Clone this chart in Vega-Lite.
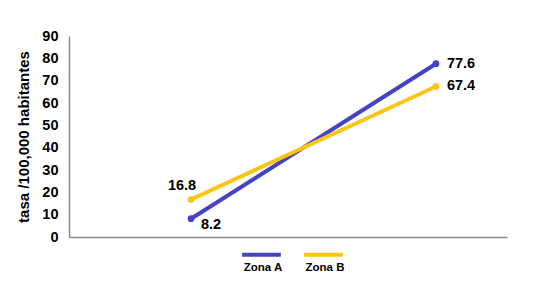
{
  "$schema": "https://vega.github.io/schema/vega-lite/v6.json",
  "width": 438,
  "height": 201,
  "autosize": {"type": "none"},
  "padding": {"left": 69, "top": 36, "right": 43, "bottom": 50},
  "background": "white",
  "config": {
    "view": {"stroke": null},
    "font": "Liberation Sans"
  },
  "data": {
    "values": [
      {"periodo": "Inicio", "zona": "Zona A", "tasa": 8.2},
      {"periodo": "Final", "zona": "Zona A", "tasa": 77.6},
      {"periodo": "Inicio", "zona": "Zona B", "tasa": 16.8},
      {"periodo": "Final", "zona": "Zona B", "tasa": 67.4}
    ]
  },
  "encoding": {
    "x": {
      "field": "periodo",
      "type": "ordinal",
      "sort": ["Inicio", "Final"],
      "scale": {"type": "point", "padding": 0.394, "align": 0.632},
      "axis": {"title": null, "labels": false, "ticks": false, "domainColor": "#888888", "domainWidth": 1.5}
    },
    "y": {
      "field": "tasa",
      "type": "quantitative",
      "scale": {"domain": [0, 90], "nice": false},
      "axis": {
        "title": "tasa /100,000  habitantes",
        "titleFontSize": 15,
        "titleFontWeight": "bold",
        "titleColor": "#000000",
        "titlePadding": 10,
        "values": [0, 10, 20, 30, 40, 50, 60, 70, 80, 90],
        "labelFontSize": 14.5,
        "labelFontWeight": "bold",
        "labelColor": "#000000",
        "labelPadding": 11,
        "ticks": false,
        "grid": false,
        "domainColor": "#888888",
        "domainWidth": 1.5
      }
    },
    "color": {
      "field": "zona",
      "type": "nominal",
      "scale": {"domain": ["Zona A", "Zona B"], "range": ["#4343C4", "#FCC512"]},
      "legend": {
        "title": null,
        "orient": "none",
        "direction": "horizontal",
        "legendX": 171,
        "legendY": 197,
        "symbolType": "stroke",
        "symbolStrokeWidth": 4,
        "symbolSize": 1500,
        "labelFontSize": 11.5,
        "labelFontWeight": "bold",
        "labelColor": "#000000",
        "labelAlign": "center",
        "labelBaseline": "middle",
        "labelExpr": "['', datum.label]",
        "labelLineHeight": 26,
        "labelOffset": -20,
        "columnPadding": 7
      }
    }
  },
  "layer": [
    {"mark": {"type": "line", "strokeWidth": 4}},
    {"mark": {"type": "circle", "size": 45, "opacity": 1}},
    {
      "transform": [{"filter": "datum.periodo == 'Final'"}],
      "mark": {"type": "text", "align": "left", "dx": 11, "dy": 0, "fontSize": 14.5, "fontWeight": "bold"},
      "encoding": {"text": {"field": "tasa", "type": "quantitative", "format": ".1f"}, "color": {"value": "#000000"}}
    },
    {
      "transform": [{"filter": "datum.periodo == 'Inicio' && datum.zona == 'Zona A'"}],
      "mark": {"type": "text", "align": "center", "dx": 20, "dy": 6, "fontSize": 14.5, "fontWeight": "bold"},
      "encoding": {"text": {"field": "tasa", "type": "quantitative", "format": ".1f"}, "color": {"value": "#000000"}}
    },
    {
      "transform": [{"filter": "datum.periodo == 'Inicio' && datum.zona == 'Zona B'"}],
      "mark": {"type": "text", "align": "center", "dx": -9, "dy": -13, "fontSize": 14.5, "fontWeight": "bold"},
      "encoding": {"text": {"field": "tasa", "type": "quantitative", "format": ".1f"}, "color": {"value": "#000000"}}
    }
  ]
}
